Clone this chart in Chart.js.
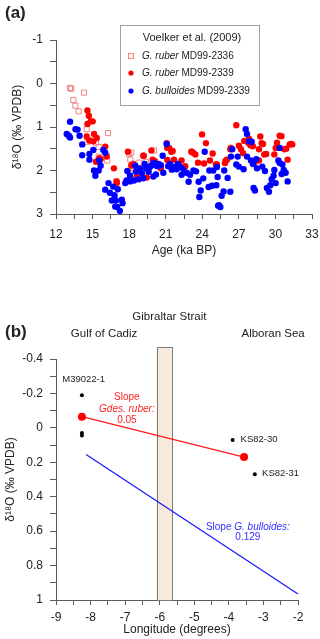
<!DOCTYPE html>
<html>
<head>
<meta charset="utf-8">
<script src="https://cdn.jsdelivr.net/npm/chart.js@4.4.1/dist/chart.umd.min.js"></script>
<style>
  html, body { margin: 0; padding: 0; background: #fff; }
  #wrap { position: relative; width: 320px; height: 639px; overflow: hidden; }
  canvas { position: absolute; left: 0; }
  #chartA { top: 0; }
  #chartB { top: 300px; }
</style>
</head>
<body>
<div id="wrap">
  <canvas id="chartA" width="320" height="262"></canvas>
  <canvas id="chartB" width="320" height="339"></canvas>
</div>
<script>
// ---- panel (a): Voelker et al. (2009) records ----
const rub2336Age = [13.15, 13.25, 14.3, 13.42, 13.59, 13.86, 14.52, 14.57, 15.06, 15.28, 15.5, 16.27, 15.5, 16.2,
  16.16, 16.95, 18.0, 18.1, 18.2, 18.05, 18.18, 18.34, 18.84, 19.38, 20.04];
const rub2336D18 = [0.10, 0.12, 0.21, 0.38, 0.51, 0.64, 1.05, 1.34, 1.31, 1.36, 1.46, 1.14, 1.68, 1.77,
  1.66, 2.24, 1.62, 1.75, 1.9, 2.05, 1.59, 2.0, 1.82, 1.80, 1.54];

const rub2339Age = [14.58, 14.69, 14.58, 14.85, 15.01, 14.52, 15.12, 14.73, 15.06, 15.34, 16.04, 15.55, 15.28, 15.66,
  16.15, 16.75, 16.97, 17.0, 17.9, 18.18, 18.34, 18.62, 19.2, 19.45, 19.16, 19.83, 19.93, 20.1, 20.6, 20.3,
  21.08, 21.13, 21.3, 21.46, 21.57, 21.13, 21.68, 22.3, 22.6, 23.1, 23.16, 23.27, 23.43, 23.65, 23.98, 24.3,
  24.14, 24.63, 24.85, 25.12, 25.2, 25.86, 26.02, 25.9, 26.3, 26.35, 26.79, 27.0, 27.17, 27.34, 27.44, 27.77,
  27.83, 27.94, 28.15, 28.27, 28.65, 28.65, 28.76, 28.87, 28.98, 29.09, 29.24, 29.91, 30.02, 30.13, 30.35,
  30.5, 30.73, 30.89, 31.0, 31.17, 31.28, 31.38];
const rub2339D18 = [0.62, 0.74, 0.93, 0.87, 0.87, 1.22, 1.16, 1.31, 1.33, 1.25, 1.45, 1.72, 1.80, 1.74,
  1.68, 1.95, 2.26, 2.28, 1.57, 1.88, 1.85, 2.14, 1.66, 2.16, 1.66, 1.54, 1.75, 1.78, 1.95, 1.88,
  1.37, 1.48, 1.49, 1.57, 1.55, 1.76, 1.75, 1.77, 1.90, 1.57, 1.57, 1.60, 1.63, 1.82, 1.17, 1.37,
  1.84, 1.77, 1.61, 1.86, 1.86, 1.83, 1.75, 1.78, 1.51, 1.48, 0.96, 1.43, 1.51, 1.60, 1.32, 1.36,
  1.27, 1.42, 1.44, 1.83, 1.77, 1.51, 1.22, 1.37, 1.39, 1.63, 1.62, 1.63, 1.48, 1.36, 1.20,
  1.21, 1.51, 1.50, 1.75, 1.40, 1.39, 1.40];

const bul2339Age = [12.88, 13.15, 13.15, 13.05, 13.6, 13.77, 13.93, 14.15, 14.15, 14.74, 15.06, 14.74, 15.12, 15.5,
  15.23, 15.55, 15.66, 15.88, 16.04, 16.04, 16.31, 16.42, 16.69, 16.8, 16.58, 16.91, 17.07, 16.86, 17.02,
  17.24, 17.4, 17.46, 17.68, 17.79, 18.07, 17.85, 18.07, 18.4, 18.5, 18.56, 18.78, 18.9, 19.05, 19.16, 19.27,
  19.4, 19.6, 19.7, 19.85, 19.98, 20.0, 20.2, 20.3, 20.42, 20.6, 20.75, 20.8, 21.08, 21.2, 21.35, 21.5, 21.63,
  21.9, 22.0, 22.17, 22.3, 22.44, 22.72, 22.88, 23.0, 23.27, 23.49, 23.7, 23.87, 23.76, 24.08, 24.2, 24.52,
  24.8, 24.58, 24.9, 25.2, 25.3, 25.37, 25.48, 25.15, 25.26, 25.59, 25.75, 25.8, 26.08, 26.3, 26.35, 26.46,
  26.79, 26.9, 27.0, 27.39, 27.56, 27.67, 27.67, 27.83, 28.05, 28.0, 28.16, 28.21, 28.32, 28.43, 28.49,
  28.92, 29.14, 29.3, 29.47, 29.58, 29.69, 29.85, 29.91, 30.02, 30.24, 30.35, 30.35, 30.57, 30.51, 30.68,
  30.84, 31.0];
const bul2339D18 = [1.16, 0.88, 1.24, 1.20, 1.05, 1.06, 1.20, 1.40, 1.65, 1.62, 1.53, 1.75, 2.00, 2.00,
  2.12, 1.77, 1.89, 1.53, 1.59, 2.44, 2.29, 2.51, 2.37, 2.57, 2.69, 2.69, 2.43, 2.83, 2.84,
  2.93, 2.67, 2.75, 2.29, 2.23, 2.25, 2.01, 2.12, 2.23, 1.89, 2.03, 2.20, 1.95, 2.06, 2.18, 1.85,
  1.95, 2.03, 1.92, 1.88, 2.14, 1.82, 2.09, 1.90, 1.85, 1.88, 1.66, 2.05, 1.39, 1.90, 1.85, 1.98, 1.92,
  1.97, 1.85, 1.91, 2.10, 1.97, 2.05, 2.26, 2.10, 2.00, 2.02, 2.26, 2.46, 2.61, 2.18, 1.57, 2.38,
  2.35, 2.00, 2.00, 1.92, 2.81, 2.80, 2.84, 2.34, 2.15, 2.58, 2.48, 2.00, 2.17, 2.49, 1.68, 1.51,
  1.86, 1.68, 1.91, 1.97, 1.05, 1.16, 1.68, 1.33, 1.34, 1.77, 1.85, 2.40, 2.46, 1.74, 1.95,
  1.91, 2.01, 2.40, 2.49, 2.34, 2.20, 2.12, 1.99, 2.29, 1.77, 1.83, 1.48, 1.86, 2.08, 1.99,
  2.05, 2.25];

const legendTitle = 'Voelker et al. (2009)';
const legendSpecies = ['G. ruber', 'G. ruber', 'G. bulloides'];
const legendCores = ['MD99-2336', 'MD99-2339', 'MD99-2339'];

// ---- panel (b): core-top gradient across the strait ----
const blackLon = [-8.25, -8.25, -8.25, -3.89, -3.25];
const blackD18 = [-0.19, 0.03, 0.045, 0.07, 0.27];
const rubLon = [-8.25, -3.56];
const rubD18 = [-0.065, 0.17];
const bulLon = [-8.13, -2];
const bulD18 = [0.155, 0.965];
const straitLon = [-6.09, -5.65];
const straitD18 = [-0.47, 1];

const FONT = "'Liberation Sans', Arial, sans-serif";
Chart.defaults.font.family = FONT;
Chart.defaults.color = '#222';
Chart.defaults.animation = false;

function toPts(xs, ys) {
  return xs.map((x, i) => ({ x: x, y: ys[i] }));
}

const AXIS = '#5a5a5a';

// keep the plot box where the layout padding puts it
function fixX(h) {
  return function (s) { s.height = h; s.paddingLeft = 0; s.paddingRight = 0; };
}
function fixY(w) {
  return function (s) { s.width = w; s.paddingTop = 0; s.paddingBottom = 0; };
}

// legend box for panel (a), italic species + plain core name
const legendA = {
  id: 'legendA',
  afterDraw(chart) {
    const ctx = chart.ctx;
    ctx.save();
    ctx.fillStyle = '#fff';
    ctx.strokeStyle = '#a0a0a0';
    ctx.lineWidth = 1;
    ctx.fillRect(120.5, 25.5, 139, 80);
    ctx.strokeRect(120.5, 25.5, 139, 80);
    ctx.fillStyle = '#222';
    ctx.textBaseline = 'middle';
    ctx.textAlign = 'center';
    ctx.font = '11px ' + FONT;
    ctx.fillText(legendTitle, 192, 38);
    ctx.textAlign = 'left';
    const rows = [56, 73, 91];
    chart.data.datasets.forEach((ds, i) => {
      const y = rows[i];
      if (ds.pointStyle === 'rect') {
        ctx.strokeStyle = ds.borderColor;
        ctx.strokeRect(128.5, y - 2.5, 5, 5);
      } else {
        ctx.fillStyle = ds.backgroundColor;
        ctx.beginPath();
        ctx.arc(131, y, 2.6, 0, Math.PI * 2);
        ctx.fill();
      }
      ctx.fillStyle = '#222';
      ctx.font = 'italic 10px ' + FONT;
      ctx.fillText(legendSpecies[i], 142, y);
      const w = ctx.measureText(legendSpecies[i] + ' ').width;
      ctx.font = '10px ' + FONT;
      ctx.fillText(legendCores[i], 142 + w, y);
    });
    ctx.font = 'bold 17px ' + FONT;
    ctx.fillText('(a)', 5, 13);
    ctx.restore();
  }
};

new Chart(document.getElementById('chartA'), {
  type: 'scatter',
  data: {
    datasets: [
      {
        label: legendSpecies[0] + ' ' + legendCores[0],
        data: toPts(rub2336Age, rub2336D18),
        pointStyle: 'rect',
        pointRadius: 3.6,
        borderWidth: 1,
        borderColor: 'rgba(240,110,110,0.85)',
        backgroundColor: 'rgba(255,255,255,0)',
        order: 3
      },
      {
        label: legendSpecies[1] + ' ' + legendCores[1],
        data: toPts(rub2339Age, rub2339D18),
        pointRadius: 3.2,
        borderWidth: 0,
        backgroundColor: '#ff0000',
        borderColor: '#ff0000',
        order: 2
      },
      {
        label: legendSpecies[2] + ' ' + legendCores[2],
        data: toPts(bul2339Age, bul2339D18),
        pointRadius: 3.2,
        borderWidth: 0,
        backgroundColor: '#0000ff',
        borderColor: '#0000ff',
        order: 1
      }
    ]
  },
  options: {
    responsive: false,
    layout: { padding: { top: 40, right: 8, left: 0, bottom: 0 } },
    plugins: { legend: { display: false }, tooltip: { enabled: false } },
    scales: {
      x: {
        type: 'linear',
        min: 12, max: 33,
        afterFit: fixX(48),
        border: { color: AXIS },
        grid: { drawOnChartArea: false, tickLength: 5, color: AXIS },
        ticks: {
          stepSize: 1.5, padding: 8, maxRotation: 0, autoSkip: false,
          font: { size: 12 },
          callback: v => (Math.abs(v % 3) < 1e-6 ? v : '')
        },
        title: { display: true, text: 'Age (ka BP)', font: { size: 12 }, padding: { top: 0, bottom: 4 } }
      },
      y: {
        reverse: true,
        min: -1, max: 3,
        afterFit: fixY(56),
        border: { color: AXIS },
        grid: { drawOnChartArea: false, tickLength: 6, color: AXIS },
        ticks: {
          stepSize: 0.5, padding: 7, autoSkip: false,
          font: { size: 12 },
          callback: v => (Math.abs(v % 1) < 1e-6 ? v : '')
        },
        title: { display: true, text: 'δ¹⁸O (‰ VPDB)', font: { size: 12 }, padding: { top: 10, bottom: 0 } }
      }
    }
  },
  plugins: [legendA]
});

// strait bar behind the lines, texts on top
const straitBox = {
  id: 'straitBox',
  beforeDatasetsDraw(chart) {
    const xs = chart.scales.x, ys = chart.scales.y;
    const x0 = xs.getPixelForValue(straitLon[0]);
    const x1 = xs.getPixelForValue(straitLon[1]);
    const y0 = ys.getPixelForValue(straitD18[0]);
    const y1 = ys.getPixelForValue(straitD18[1]);
    const ctx = chart.ctx;
    ctx.save();
    ctx.fillStyle = '#f7e9dc';
    ctx.strokeStyle = '#7a7a7a';
    ctx.lineWidth = 1;
    ctx.fillRect(x0, y0, x1 - x0, y1 - y0);
    ctx.strokeRect(Math.round(x0) + 0.5, Math.round(y0) + 0.5, Math.round(x1 - x0), Math.round(y1 - y0));
    ctx.restore();
  },
  afterDraw(chart) {
    const xs = chart.scales.x, ys = chart.scales.y;
    const ctx = chart.ctx;
    const px = v => xs.getPixelForValue(v);
    const py = v => ys.getPixelForValue(v);
    ctx.save();
    ctx.textBaseline = 'middle';
    ctx.fillStyle = '#222';
    ctx.font = 'bold 17px ' + FONT;
    ctx.textAlign = 'left';
    ctx.fillText('(b)', 5, 32);

    ctx.font = '11.5px ' + FONT;
    ctx.textAlign = 'center';
    ctx.fillText('Gibraltar Strait', px(-5.72), 17);
    ctx.fillText('Gulf of Cadiz', px(-7.61), 34);
    ctx.fillText('Alboran Sea', px(-2.72), 34);

    ctx.font = '9.5px ' + FONT;
    ctx.fillText('M39022-1', px(-8.2), py(-0.283));
    ctx.textAlign = 'left';
    ctx.fillText('KS82-30', px(-3.66), py(0.068));
    ctx.fillText('KS82-31', px(-3.04), py(0.267));

    ctx.textAlign = 'center';
    ctx.fillStyle = '#ff2020';
    ctx.font = '10px ' + FONT;
    ctx.fillText('Slope', px(-6.95), py(-0.178));
    ctx.font = 'italic 10px ' + FONT;
    ctx.fillText('Gdes. ruber:', px(-6.95), py(-0.107));
    ctx.font = '10px ' + FONT;
    ctx.fillText('0.05', px(-6.95), py(-0.047));

    ctx.fillStyle = '#3030ff';
    ctx.font = '10px ' + FONT;
    const a = 'Slope ';
    const wa = ctx.measureText(a).width;
    ctx.font = 'italic 10px ' + FONT;
    const b = 'G. bulloides:';
    const wb = ctx.measureText(b).width;
    const left = px(-3.45) - (wa + wb) / 2;
    ctx.textAlign = 'left';
    ctx.font = '10px ' + FONT;
    ctx.fillText(a, left, py(0.58));
    ctx.font = 'italic 10px ' + FONT;
    ctx.fillText(b, left + wa, py(0.58));
    ctx.textAlign = 'center';
    ctx.font = '10px ' + FONT;
    ctx.fillText('0.129', px(-3.45), py(0.638));
    ctx.restore();
  }
};

new Chart(document.getElementById('chartB'), {
  type: 'scatter',
  data: {
    datasets: [
      {
        label: 'core tops',
        data: toPts(blackLon, blackD18),
        pointRadius: 2,
        borderWidth: 0,
        backgroundColor: '#000',
        order: 1
      },
      {
        label: 'G. ruber',
        data: toPts(rubLon, rubD18),
        showLine: true,
        borderColor: '#ff1a1a',
        borderWidth: 1.3,
        pointRadius: 4,
        pointBorderWidth: 0,
        pointBackgroundColor: '#ff0000',
        order: 2
      },
      {
        label: 'G. bulloides',
        data: toPts(bulLon, bulD18),
        showLine: true,
        borderColor: '#1a1aff',
        borderWidth: 1.3,
        pointRadius: 0,
        order: 3
      }
    ]
  },
  options: {
    responsive: false,
    clip: false,
    layout: { padding: { top: 59, right: 22, left: 0, bottom: 0 } },
    plugins: { legend: { display: false }, tooltip: { enabled: false } },
    scales: {
      x: {
        type: 'linear',
        min: -9, max: -2,
        afterFit: fixX(39),
        border: { color: AXIS },
        grid: { drawOnChartArea: false, tickLength: 5, color: AXIS },
        ticks: {
          stepSize: 0.5, padding: 5, maxRotation: 0, autoSkip: false,
          font: { size: 12 },
          callback: v => (Math.abs(v % 1) < 1e-6 ? v : '')
        },
        title: { display: true, text: 'Longitude (degrees)', font: { size: 12 }, padding: { top: 0, bottom: 2 } }
      },
      y: {
        reverse: true,
        min: -0.4, max: 1,
        afterFit: fixY(56),
        border: { color: AXIS },
        grid: { drawOnChartArea: false, tickLength: 6, color: AXIS },
        ticks: {
          stepSize: 0.1, padding: 7, autoSkip: false,
          font: { size: 12 },
          callback: v => {
            const t = Math.round(v * 10);
            return t % 2 === 0 ? String(t / 10) : '';
          }
        },
        title: { display: true, text: 'δ¹⁸O (‰ VPDB)', font: { size: 12 }, padding: { top: 3, bottom: 0 } }
      }
    }
  },
  plugins: [straitBox]
});
</script>
</body>
</html>
